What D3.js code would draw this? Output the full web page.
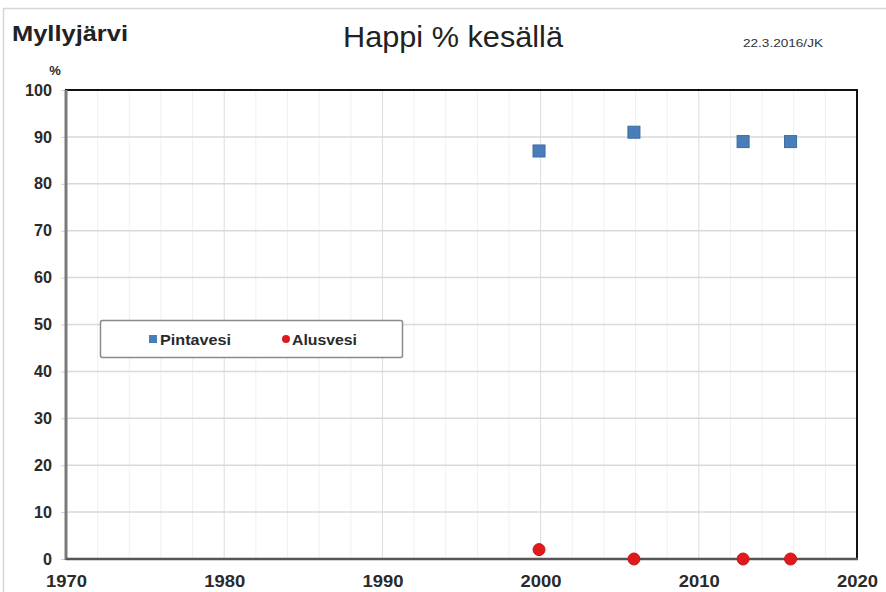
<!DOCTYPE html>
<html><head><meta charset="utf-8">
<script src="https://cdn.jsdelivr.net/npm/d3@7"></script>
<style>body{margin:0;background:#fff}svg{display:block}text{font-family:"Liberation Sans",Arial,sans-serif}</style>
</head><body>
<svg id="c" width="886" height="592"></svg>
<script>
const years = [1999.9, 2005.9, 2012.8, 2015.8];
const pintavesi = [87, 91, 89, 89];
const alusvesi = [2, 0, 0, 0];
const yTicks = [0,10,20,30,40,50,60,70,80,90,100];
const xTicks = [1970,1980,1990,2000,2010,2020];
const xMinor = d3.range(1970, 2021, 2);
const seriesNames = ["Pintavesi","Alusvesi"];

const svg = d3.select("#c");
const L=66,R=857,T=90,B=559;
const x = d3.scaleLinear().domain([1970,2020]).range([L,R]);
const y = d3.scaleLinear().domain([0,100]).range([B,T]);

svg.append("rect").attr("x",3.5).attr("y",8.5).attr("width",900).attr("height",620)
  .attr("fill","none").attr("stroke","#d6d6d6").attr("stroke-width",1.5);

// minor vertical grid
svg.append("g").selectAll("line").data(xMinor).join("line")
  .attr("x1",d=>x(d)).attr("x2",d=>x(d)).attr("y1",T).attr("y2",B)
  .attr("stroke",d=>d%10===0?"#dcdcdc":"#f0f0f0").attr("stroke-width",1);
// horizontal grid
svg.append("g").selectAll("line").data(yTicks.slice(1,-1)).join("line")
  .attr("x1",L).attr("x2",R).attr("y1",d=>y(d)).attr("y2",d=>y(d))
  .attr("stroke","#d9d9d9").attr("stroke-width",1.5);

// axes
const ya = svg.append("g").attr("transform",`translate(${L},0)`)
  .call(d3.axisLeft(y).tickValues(yTicks).tickSize(5).tickPadding(9));
ya.select(".domain").remove();
ya.selectAll("line").attr("stroke","#cfcfcf");
ya.selectAll("text").attr("font-size",16).attr("font-weight","bold").attr("fill","#2a2a2a")
  .attr("textLength",d=>String(d).length*9).attr("lengthAdjust","spacingAndGlyphs");
const xa = svg.append("g").attr("transform",`translate(0,${B})`)
  .call(d3.axisBottom(x).tickValues(xTicks).tickFormat(d3.format("d")).tickSize(0).tickPadding(16));
xa.select(".domain").remove();
xa.selectAll("text").attr("font-size",16.5).attr("font-weight","bold").attr("fill","#2a2a2a")
  .attr("textLength",41).attr("lengthAdjust","spacingAndGlyphs");

// frame
svg.append("line").attr("x1",L-1).attr("x2",R+1).attr("y1",T).attr("y2",T).attr("stroke","#111").attr("stroke-width",2);
svg.append("line").attr("x1",R).attr("x2",R).attr("y1",T).attr("y2",B).attr("stroke","#111").attr("stroke-width",2);
svg.append("line").attr("x1",L).attr("x2",L).attr("y1",T).attr("y2",B+1).attr("stroke","#7a7a7a").attr("stroke-width",3);
svg.append("line").attr("x1",L).attr("x2",R+1).attr("y1",B).attr("y2",B).attr("stroke","#555").attr("stroke-width",2.5);

// data
const sq = 12;
svg.append("g").selectAll("rect").data(years).join("rect")
  .attr("x",(d)=>x(d)-sq/2).attr("y",(d,i)=>y(pintavesi[i])-sq/2)
  .attr("width",sq).attr("height",sq).attr("fill","#4a7ebb").attr("stroke","#3c6aa3").attr("stroke-width",1);
svg.append("g").selectAll("circle").data(years).join("circle")
  .attr("cx",d=>x(d)).attr("cy",(d,i)=>y(alusvesi[i])).attr("r",6)
  .attr("fill","#df1a1a").attr("stroke","#c81414").attr("stroke-width",1);

// legend
svg.append("rect").attr("x",100.5).attr("y",320.5).attr("width",302).attr("height",37).attr("rx",2)
  .attr("fill","#fff").attr("stroke","#8a8a8a").attr("stroke-width",1.5);
svg.append("rect").attr("x",149).attr("y",335).attr("width",8).attr("height",8).attr("fill","#4a7ebb");
svg.append("text").attr("x",160).attr("y",344.5).attr("font-size",14).attr("font-weight","bold").attr("fill","#2a2a2a")
  .attr("textLength",71).attr("lengthAdjust","spacingAndGlyphs").text(seriesNames[0]);
svg.append("circle").attr("cx",286).attr("cy",339).attr("r",4).attr("fill","#df1a1a");
svg.append("text").attr("x",292).attr("y",344.5).attr("font-size",14).attr("font-weight","bold").attr("fill","#2a2a2a")
  .attr("textLength",65).attr("lengthAdjust","spacingAndGlyphs").text(seriesNames[1]);

// titles
svg.append("text").attr("x",12).attr("y",41).attr("font-size",22).attr("font-weight","bold").attr("fill","#222")
  .attr("textLength",116).attr("lengthAdjust","spacingAndGlyphs").text("Myllyjärvi");
svg.append("text").attr("x",453).attr("y",47).attr("text-anchor","middle").attr("font-size",29).attr("fill","#222")
  .attr("textLength",220).attr("lengthAdjust","spacingAndGlyphs").text("Happi % kesällä");
svg.append("text").attr("x",743).attr("y",47).attr("font-size",11).attr("fill","#333")
  .attr("textLength",80).attr("lengthAdjust","spacingAndGlyphs").text("22.3.2016/JK");
svg.append("text").attr("x",55).attr("y",75).attr("text-anchor","middle").attr("font-size",13).attr("font-weight","bold").attr("fill","#2a2a2a").text("%");
</script>
</body></html>
